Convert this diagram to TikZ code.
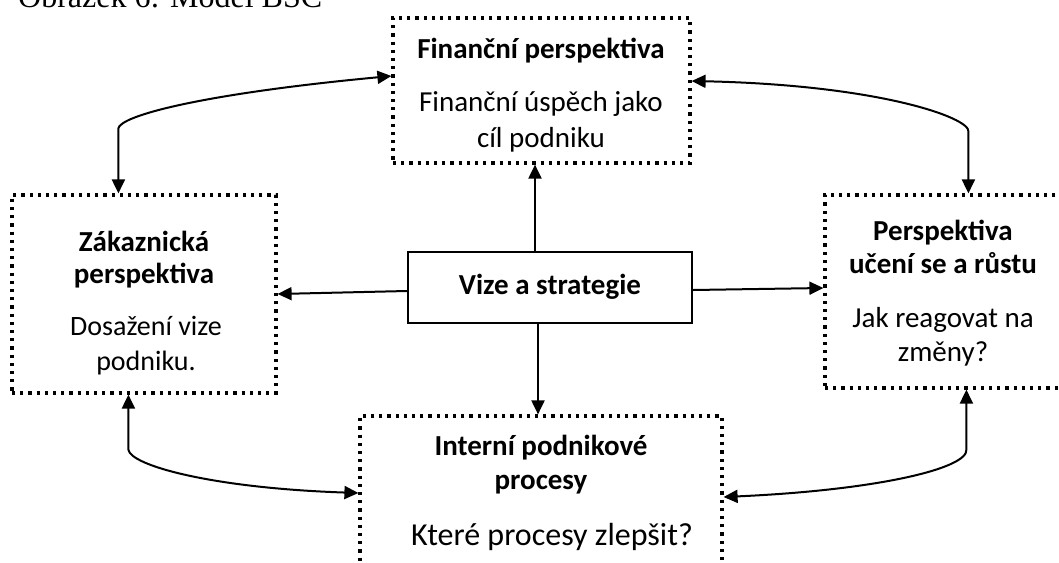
\documentclass[tikz,border=0pt]{standalone}
\usepackage{fontspec}
\setmainfont{Carlito}
\newfontfamily\capfont{Liberation Serif}
\usetikzlibrary{arrows.meta}
\begin{document}
\begin{tikzpicture}[x=1pt,y=-1pt,
  dotbox/.style={draw, line width=3.2pt, dash pattern=on 3.2pt off 5pt, inner sep=0pt},
  solidbox/.style={draw, line width=2pt, inner sep=0pt},
  title/.style={anchor=base, font=\fontsize{29}{34}\selectfont\bfseries, inner sep=0pt},
  body/.style={anchor=base, font=\fontsize{29}{34}\selectfont, inner sep=0pt},
  arr/.style={line width=2pt, -{Triangle[length=14pt,width=13pt]}},
  biarr/.style={line width=2pt, {Triangle[length=14pt,width=13pt]}-{Triangle[length=14pt,width=13pt]}}]
\useasboundingbox (0,0) rectangle (1059,562);
\clip (0,0) rectangle (1059,562);
\fill[white] (0,0) rectangle (1059,562);

% caption
\node[anchor=base west, inner sep=0pt, font=\capfont\fontsize{32}{34}\selectfont] (cap) at (18,7) {Obrázek 6: Model BSC};

% boxes
\node[dotbox, minimum width=297pt, minimum height=145pt] (fin) at (541.5,90.5) {};
\node[dotbox, minimum width=264pt, minimum height=198pt] (cust) at (144,294) {};
\node[dotbox, minimum width=236pt, minimum height=193pt] (learn) at (943,291.5) {};
\node[dotbox, minimum width=362pt, minimum height=184pt] (intern) at (541,508) {};
\node[solidbox, minimum width=284pt, minimum height=71pt] (vize) at (550,287.5) {};

% texts
\node[title] (finT) at (541,58) {Finanční perspektiva};
\node[body] (finB1) at (541,111) {Finanční úspěch jako};
\node[body] (finB2) at (541,147) {cíl podniku};

\node[title] (custT1) at (144,251) {Zákaznická};
\node[title] (custT2) at (144,283) {perspektiva};
\node[body, font=\fontsize{28}{34}\selectfont] (custB1) at (146,335) {Dosažení vize};
\node[body, font=\fontsize{28}{34}\selectfont] (custB2) at (146,370) {podniku.};

\node[title] (learnT1) at (943,240) {Perspektiva};
\node[title] (learnT2) at (943,273) {učení se a růstu};
\node[body] (learnB1) at (943,327) {Jak reagovat na};
\node[body] (learnB2) at (943,361) {změny?};

\node[title] (intT1) at (541,455) {Interní podnikové};
\node[title] (intT2) at (541,489) {procesy};
\node[body, font=\fontsize{32}{36}\selectfont] (intB) at (552,545) {Které procesy zlepšit?};

\node[title] (vizeT) at (550,294) {Vize a strategie};

% straight connectors from the centre
\draw[arr] ([xshift=-15pt]vize.north) -- ([xshift=-15pt]vize.north |- fin.south);
\draw[arr] ([xshift=-12pt]vize.south) -- ([xshift=-12pt]vize.south |- intern.north);
\draw[arr] ([yshift=-3.5pt]vize.west) -- (cust.east);
\draw[arr] ([yshift=-2.5pt]vize.east) -- ([yshift=3.5pt]learn.west);

% curved two-way connectors
\draw[biarr] ([xshift=108pt]cust.north west) -- ++(0,-65)
  .. controls (120,116) and (200,94) .. ([yshift=14.5pt]fin.west);
\draw[biarr] ([xshift=145pt]learn.north west) -- ++(0,-62)
  .. controls (970,118) and (880,85) .. ([yshift=9.5pt]fin.east);
\draw[biarr] ([xshift=118pt]cust.south west) -- ++(0,55)
  .. controls (130,465) and (210,488) .. ([yshift=15pt]intern.west);
\draw[biarr] ([xshift=143pt]learn.south west) -- ++(0,60)
  .. controls (968,468) and (880,490) .. ([yshift=11pt]intern.east);
\end{tikzpicture}
\end{document}
